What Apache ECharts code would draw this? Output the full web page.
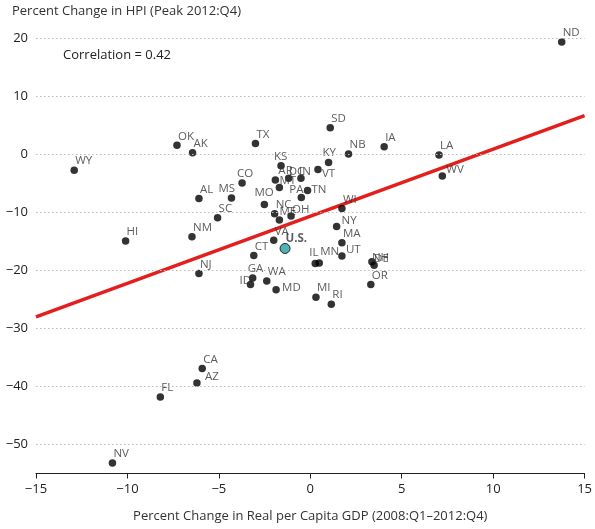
<!DOCTYPE html>
<html>
<head>
<meta charset="utf-8">
<script src="https://cdn.jsdelivr.net/npm/echarts@6/dist/echarts.min.js"></script>
<style>
html,body{margin:0;padding:0;background:#fff;}
#chart{width:595px;height:529px;}
</style>
</head>
<body>
<div id="chart"></div>
<script>
// ---- data ----
const states = ['ND','WY','OK','AK','TX','SD','NB','IA','LA','WV','KY','VT','KS','CO','AR','DC','IN','MT','TN','PA','MO','NC','ME','OH','WI','NY','MA','AL','MS','SC','NM','HI','NJ','VA','CT','UT','IL','MN','NH','DE','GA','ID','WA','MD','OR','MI','RI','CA','AZ','FL','NV'];
const gdpChange = [13.75,-12.91,-7.29,-6.44,-3.0,1.09,2.09,4.04,7.04,7.22,1.0,0.42,-1.6,-3.73,-1.91,-1.18,-0.51,-1.69,-0.15,-0.49,-2.51,-1.95,-1.69,-1.05,1.73,1.44,1.73,-6.09,-4.31,-5.07,-6.47,-10.1,-6.09,-2.0,-3.09,1.73,0.27,0.49,3.37,3.49,-3.15,-3.27,-2.38,-1.87,3.31,0.31,1.15,-5.91,-6.2,-8.2,-10.82];
const hpiChange = [19.4,-2.7,1.6,0.3,1.9,4.6,0.1,1.35,-0.1,-3.7,-1.4,-2.6,-1.95,-4.9,-4.4,-4.1,-4.1,-5.7,-6.2,-7.4,-8.6,-10.2,-11.3,-10.6,-9.3,-12.4,-15.2,-7.6,-7.5,-10.9,-14.2,-14.9,-20.5,-14.8,-17.4,-17.5,-18.8,-18.7,-18.5,-19.1,-21.3,-22.4,-21.8,-23.3,-22.4,-24.6,-25.8,-36.9,-39.4,-41.8,-53.2];
const usName = 'U.S.';
const usGdp = -1.38;
const usHpi = -16.2;
const fitX = [-15, 15];
const fitY = [-28.0, 6.7];
const xTicks = [-15, -10, -5, 0, 5, 10, 15];
const yTicks = [-50, -40, -30, -20, -10, 0, 10, 20];
const correlationText = 'Correlation = 0.42';
const yTitle = 'Percent Change in HPI (Peak 2012:Q4)';
const xTitle = 'Percent Change in Real per Capita GDP (2008:Q1\u20132012:Q4)';

// ---- label placement tweaks (style only) ----
const defaultLabelOffset = [1, -9];
const labelOffsets = {
  KS:[-7,-9], KY:[-6,-10], VT:[4,4], MO:[-10,-12], PA:[-12,-8], TN:[4,-1],
  MS:[-13,-9], ID:[-11,-4], MD:[6,-2], GA:[-5,-9], IL:[-6,-11], MN:[1,-11],
  AZ:[8,-6], WV:[4,-6], UT:[4,-6], NY:[5,-6], OH:[1,-6], CO:[-5,-9],
  NH:[0,-4], DE:[0,-7], ME:[0,-8], MT:[0,-7], AR:[3,-9], DC:[0,-7], IN:[-2,-7]
};

const FONT = '"Open Sans"';
const minus = s => String(s).replace('-', '\u2212');

function labelFor(name, size) {
  const o = labelOffsets[name] || defaultLabelOffset;
  return {
    show: true,
    formatter: name,
    position: [size / 2 + o[0], size / 2 + o[1]],
    align: 'left',
    verticalAlign: 'middle',
    color: '#333',
    fontFamily: FONT,
    fontSize: 11.5
  };
}

const stateData = states.map((s, i) => ({
  name: s,
  value: [gdpChange[i], hpiChange[i]],
  label: labelFor(s, 7.5)
}));

const usData = [{
  name: usName,
  value: [usGdp, usHpi],
  label: Object.assign(labelFor(usName, 10), { fontWeight: 'bold' })
}];

const chart = echarts.init(document.getElementById('chart'), null, { renderer: 'canvas' });

chart.setOption({
  animation: false,
  backgroundColor: '#ffffff',
  textStyle: { fontFamily: FONT },
  grid: { left: 36, right: 9, top: 26.9, bottom: 55.5, containLabel: false },
  xAxis: {
    type: 'value',
    min: xTicks[0],
    max: xTicks[xTicks.length - 1],
    interval: 5,
    splitLine: { show: false },
    axisLine: { show: true, onZero: false, lineStyle: { color: '#222', width: 1 } },
    axisTick: { show: true, length: 5, inside: false, lineStyle: { color: '#222', width: 1 } },
    axisLabel: { color: '#222', fontSize: 13, fontFamily: FONT, margin: 9, formatter: v => minus(v) },
    name: xTitle,
    nameLocation: 'middle',
    nameGap: 36,
    nameTextStyle: { color: '#333', fontSize: 13, fontFamily: FONT }
  },
  yAxis: {
    type: 'value',
    min: -55,
    max: 22,
    splitLine: { show: false },
    axisLine: { show: false },
    axisTick: { show: false },
    axisLabel: {
      color: '#222', fontSize: 13, fontFamily: FONT, margin: 8,
      customValues: yTicks,
      formatter: v => minus(v)
    }
  },
  graphic: [
    { type: 'text', left: 12, top: 5, style: { text: yTitle, fill: '#333', font: '13px ' + FONT } },
    { type: 'text', left: 63, top: 49, style: { text: correlationText, fill: '#222', font: '13px ' + FONT } }
  ],
  series: [
    {
      type: 'line',
      data: [],
      silent: true,
      markLine: {
        silent: true,
        symbol: ['none', 'none'],
        label: { show: false },
        lineStyle: { color: '#bcbcbc', type: [1.5, 2.5], width: 1 },
        data: yTicks.map(v => [
          { coord: [xTicks[0], v] },
          { coord: [xTicks[xTicks.length - 1], v] }
        ])
      },
      z: 1
    },
    {
      type: 'line',
      data: fitX.map((x, i) => [x, fitY[i]]),
      symbol: 'none',
      lineStyle: { color: '#e41e1c', width: 3.5 },
      clip: false,
      z: 2
    },
    {
      type: 'scatter',
      data: stateData,
      symbol: 'circle',
      symbolSize: 7.5,
      itemStyle: { color: '#000' },
      z: 3
    },
    {
      type: 'scatter',
      data: usData,
      symbol: 'circle',
      symbolSize: 10,
      itemStyle: { color: '#23a0a0', borderColor: '#000', borderWidth: 1 },
      z: 4
    }
  ]
});
</script>
</body>
</html>
